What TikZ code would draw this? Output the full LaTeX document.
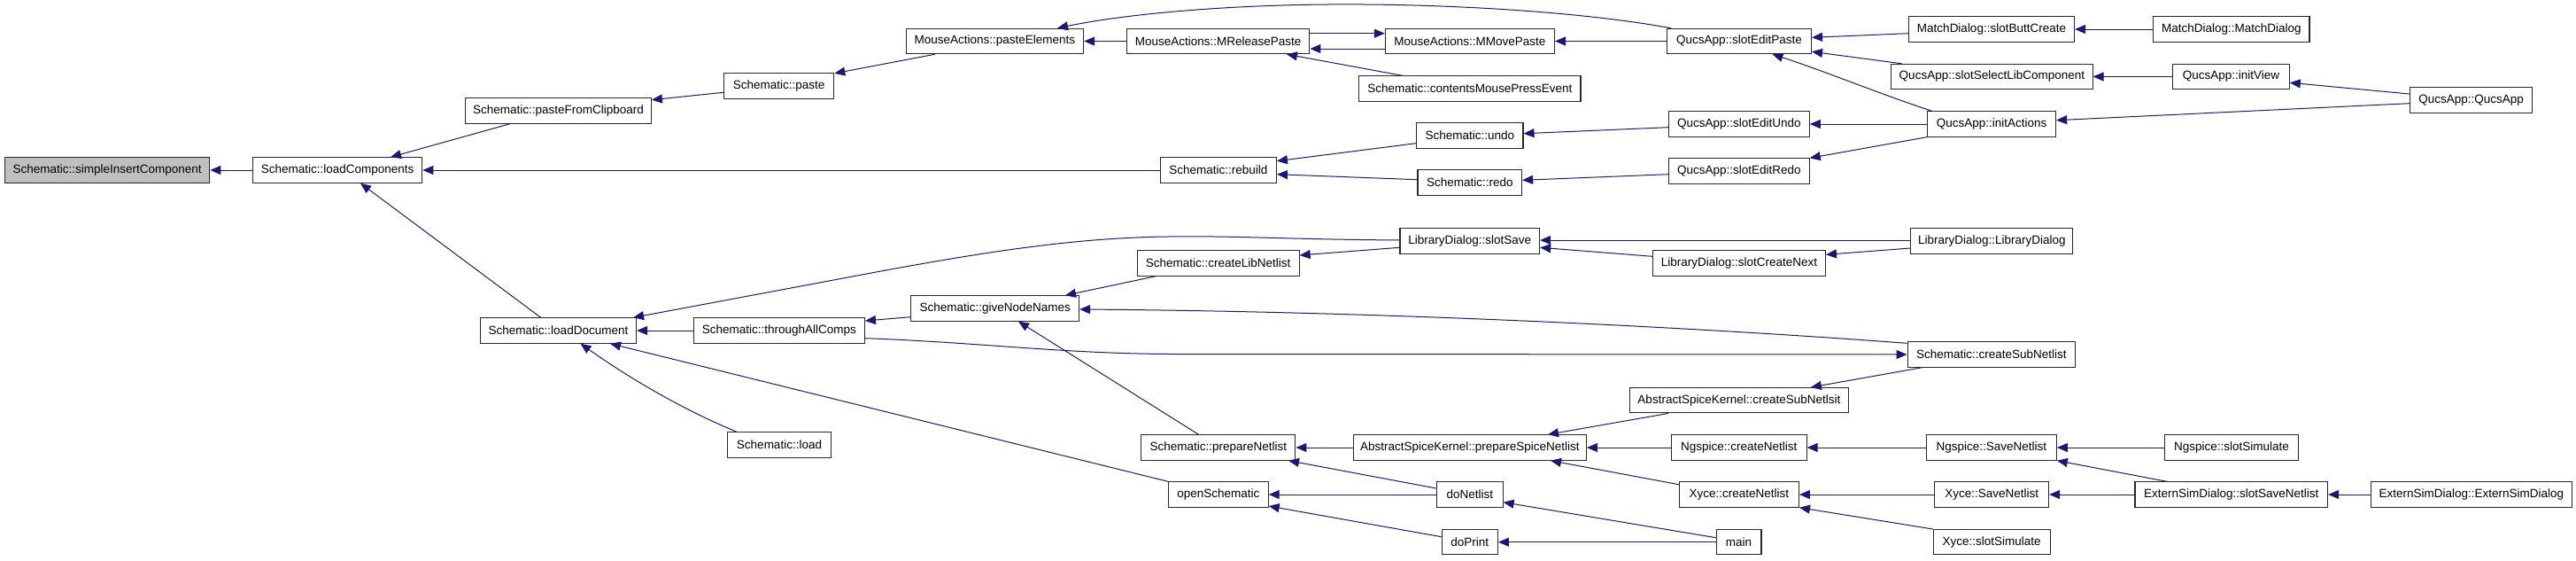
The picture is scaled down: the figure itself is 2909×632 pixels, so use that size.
\documentclass[tikz,border=0pt]{standalone}
\usepackage{fontspec}
\setmainfont{Liberation Sans}
\usetikzlibrary{arrows.meta,calc}
\definecolor{edgeblue}{RGB}{25,25,112}
\definecolor{boxgray}{RGB}{191,191,191}
\definecolor{boxline}{RGB}{40,40,40}
\begin{document}
\begin{tikzpicture}[x=1pt,y=-1pt,
  box/.style={draw=boxline, fill=white, line width=1.1pt, minimum height=28.3pt, inner sep=0pt,
    font=\fontsize{13.5}{16}\selectfont, text=black},
  edge/.style={draw=edgeblue, line width=1pt, -{Triangle[length=12pt,width=10pt,fill=edgeblue]}}]
\useasboundingbox[fill=white] (0,0) rectangle (2909,632);
% nodes
\node[box, fill=boxgray, minimum width=231.4pt] (sic) at (121.1,192) {Schematic::simpleInsertComponent};
\node[box, minimum width=191.1pt] (lc) at (381.2,192) {Schematic::loadComponents};
\node[box, minimum width=209.7pt] (pfc) at (630.5,125) {Schematic::pasteFromClipboard};
\node[box, minimum width=176.1pt] (ld) at (630.5,373) {Schematic::loadDocument};
\node[box, minimum width=124.3pt] (paste) at (879.6,97) {Schematic::paste};
\node[box, minimum width=193.2pt] (tac) at (879.8,373) {Schematic::throughAllComps};
\node[box, minimum width=116.4pt] (load) at (880,502) {Schematic::load};
\node[box, minimum width=200.4pt] (pe) at (1123.4,46.5) {MouseActions::pasteElements};
\node[box, minimum width=189.7pt] (gnn) at (1123.7,348) {Schematic::giveNodeNames};
\node[box, minimum width=206.4pt] (mrp) at (1375.7,46.5) {MouseActions::MReleasePaste};
\node[box, minimum width=131pt] (rebuild) at (1375.9,192) {Schematic::rebuild};
\node[box, minimum width=182.8pt] (cln) at (1375.7,297) {Schematic::createLibNetlist};
\node[box, minimum width=174pt] (pn) at (1375.9,505) {Schematic::prepareNetlist};
\node[box, minimum width=112.5pt] (os) at (1375.9,558) {openSchematic};
\node[box, minimum width=191.1pt] (mmp) at (1659.9,46.5) {MouseActions::MMovePaste};
\node[box, minimum width=250.4pt] (cmpe) at (1659.8,100) {Schematic::contentsMousePressEvent};
\node[box, minimum width=120.4pt] (undo) at (1659.8,153) {Schematic::undo};
\node[box, minimum width=117.6pt] (redo) at (1659.8,206) {Schematic::redo};
\node[box, minimum width=157.6pt] (lss) at (1659.8,272) {LibraryDialog::slotSave};
\node[box, minimum width=263.2pt] (psn) at (1659.8,505) {AbstractSpiceKernel::prepareSpiceNetlist};
\node[box, minimum width=74.6pt] (dn) at (1659.8,558) {doNetlist};
\node[box, minimum width=63.2pt] (dp) at (1659.8,611.7) {doPrint};
\node[box, minimum width=163pt] (sep) at (1964,46.5) {QucsApp::slotEditPaste};
\node[box, minimum width=158.9pt] (seu) at (1963.8,140) {QucsApp::slotEditUndo};
\node[box, minimum width=158.9pt] (ser) at (1963.8,193) {QucsApp::slotEditRedo};
\node[box, minimum width=195pt] (scn) at (1963.9,297) {LibraryDialog::slotCreateNext};
\node[box, minimum width=246.9pt] (csns) at (1963.9,451.7) {AbstractSpiceKernel::createSubNetlsit};
\node[box, minimum width=152.5pt] (ncn) at (1963.8,505) {Ngspice::createNetlist};
\node[box, minimum width=135pt] (xcn) at (1963.9,558) {Xyce::createNetlist};
\node[box, minimum width=50.7pt] (main) at (1963.6,611.7) {main};
\node[box, minimum width=187.1pt] (sbc) at (2249,33) {MatchDialog::slotButtCreate};
\node[box, minimum width=227.3pt] (sslc) at (2249.4,86.5) {QucsApp::slotSelectLibComponent};
\node[box, minimum width=145.1pt] (ia) at (2249,140) {QucsApp::initActions};
\node[box, minimum width=183.1pt] (ldld) at (2249.3,272) {LibraryDialog::LibraryDialog};
\node[box, minimum width=189.6pt] (scsn) at (2248.9,400) {Schematic::createSubNetlist};
\node[box, minimum width=146.8pt] (nsn) at (2248.9,505) {Ngspice::SaveNetlist};
\node[box, minimum width=128.7pt] (xsn) at (2249.2,558) {Xyce::SaveNetlist};
\node[box, minimum width=132pt] (xss) at (2249.2,611.7) {Xyce::slotSimulate};
\node[box, minimum width=176.3pt] (md) at (2519.8,33) {MatchDialog::MatchDialog};
\node[box, minimum width=131.5pt] (iv) at (2519.5,86.5) {QucsApp::initView};
\node[box, minimum width=150.7pt] (nss) at (2519.9,505) {Ngspice::slotSimulate};
\node[box, minimum width=217.6pt] (essn) at (2519.8,558) {ExternSimDialog::slotSaveNetlist};
\node[box, minimum width=138.3pt] (qa) at (2790.5,113) {QucsApp::QucsApp};
\node[box, minimum width=226.8pt] (esd) at (2790.8,558) {ExternSimDialog::ExternSimDialog};
% edges (caller -> callee)
\draw[edge] (lc.west) -- (sic.east);
\draw[edge] ($(pfc.south)+(-54.5,0)$) -- ($(lc.north)+(59.8,0)$);
\draw[edge] ($(ld.north)+(-19.8,0)$) -- ($(lc.south)+(25.8,0)$);
\draw[edge] (rebuild.west) -- (lc.east);
\draw[edge] ($(paste.west)+(0,7.3)$) -- ($(pfc.east)+(0,-12.3)$);
\draw[edge] ($(pe.south)+(-67.4,0)$) -- ($(paste.north east)+(0,0.5)$);
\draw[edge] (mrp.west) -- (pe.east);
\draw[edge] ($(sep.north)+(-77,0)$) .. controls (1780,12) and (1620,4) .. (1500,5) .. controls (1380,6) and (1270,16) .. ($(pe.north)+(70.6,0)$);
\draw[edge] ($(mrp.east)+(0,-8.8)$) -- ($(mmp.west)+(0,-8.8)$);
\draw[edge] ($(mmp.west)+(0,8.5)$) -- ($(mrp.east)+(0,8.5)$);
\draw[edge] ($(cmpe.north)+(-76.2,0)$) -- ($(mrp.south)+(77.2,0)$);
\draw[edge] (sep.west) -- (mmp.east);
\draw[edge] ($(sbc.west)+(0,4.7)$) -- ($(sep.east)+(0,-4.2)$);
\draw[edge] ($(sslc.north)+(-101.8,0)$) -- ($(sep.east)+(0,11.8)$);
\draw[edge] ($(ia.north)+(-67.4,0)$) .. controls (2120,105) and (2060,80) .. ($(sep.south)+(37.4,0)$);
\draw[edge] (md.west) -- (sbc.east);
\draw[edge] (iv.west) -- (sslc.east);
\draw[edge] ($(qa.west)+(0,-7)$) -- ($(iv.east)+(0,6.8)$);
\draw[edge] ($(qa.west)+(0,3.7)$) -- ($(ia.east)+(0,-4.3)$);
\draw[edge] ($(undo.west)+(0,8.7)$) -- ($(rebuild.east)+(0,-10.3)$);
\draw[edge] ($(redo.west)+(0,-3.3)$) -- ($(rebuild.east)+(0,4.7)$);
\draw[edge] ($(seu.west)+(0,3.7)$) -- ($(undo.east)+(0,-2.3)$);
\draw[edge] ($(ser.west)+(0,3.7)$) -- ($(redo.east)+(0,-2.7)$);
\draw[edge] (ia.west) -- (seu.east);
\draw[edge] (ia.south west) -- (ser.north east);
\draw[edge] ($(lss.west)+(0,-1)$) .. controls (1450,270) and (1400,266) .. (1320,267) .. controls (1220,268) and (1120,283) .. (1000,305) -- ($(ld.north east)+(-4,0)$);
\draw[edge] ($(ldld.west)+(0,-1)$) -- ($(lss.east)+(0,-1)$);
\draw[edge] ($(scn.west)+(0,-7.7)$) -- ($(lss.east)+(0,7.3)$);
\draw[edge] ($(ldld.west)+(0,8)$) -- ($(scn.east)+(0,-9.7)$);
\draw[edge] ($(cln.south)+(-70.7,0)$) -- ($(gnn.north)+(79.3,0)$);
\draw[edge] ($(lss.west)+(0,7.3)$) -- ($(cln.east)+(0,-9)$);
\draw[edge] ($(scsn.west)+(0,-12.7)$) .. controls (1950,372) and (1600,352) .. ($(gnn.east)+(0,1)$);
\draw[edge] ($(pn.north)+(-22.3,0)$) -- ($(gnn.south)+(26.3,0)$);
\draw[edge] (tac.west) -- (ld.east);
\draw[edge] ($(gnn.west)+(0,9.7)$) -- ($(tac.east)+(0,-11)$);
\draw[edge] ($(tac.east)+(0,8.7)$) .. controls (1100,386) and (1200,399) .. (1321,399.5) -- (scsn.west);
\draw[edge] (os.north west) -- ($(ld.south)+(58.5,0)$);
\draw[edge] ($(load.north)+(-48,0)$) .. controls (790,470) and (730,440) .. ($(ld.south)+(25,0)$);
\draw[edge] (psn.west) -- (pn.east);
\draw[edge] ($(csns.south)+(-79.9,0)$) -- ($(psn.north)+(88.2,0)$);
\draw[edge] (ncn.west) -- (psn.east);
\draw[edge] ($(xcn.west)+(0,-11.3)$) -- ($(psn.south)+(91.2,0)$);
\draw[edge] (dn.west) -- (os.east);
\draw[edge] ($(dp.west)+(0,-6)$) -- ($(os.east)+(0,13)$);
\draw[edge] ($(dn.west)+(0,-7)$) -- ($(pn.south)+(79.1,0)$);
\draw[edge] ($(main.west)+(0,-5)$) -- ($(dn.east)+(0,8.7)$);
\draw[edge] (main.west) -- (dp.east);
\draw[edge] ($(scsn.south)+(-78.4,0)$) -- ($(csns.north)+(81,0)$);
\draw[edge] (nsn.west) -- (ncn.east);
\draw[edge] (xsn.west) -- (xcn.east);
\draw[edge] (xss.north west) -- (xcn.south east);
\draw[edge] (nss.west) -- (nsn.east);
\draw[edge] ($(essn.north)+(-72.8,0)$) -- (nsn.south east);
\draw[edge] (essn.west) -- (xsn.east);
\draw[edge] (esd.west) -- (essn.east);
\end{tikzpicture}
\end{document}
